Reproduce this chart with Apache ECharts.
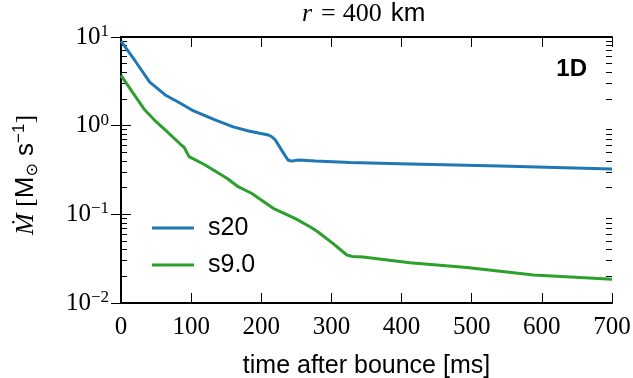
<!DOCTYPE html>
<html>
<head>
<meta charset="utf-8">
<script src="https://cdn.jsdelivr.net/npm/echarts@6/dist/echarts.min.js"></script>
<style>
  html, body { margin: 0; padding: 0; background: #ffffff; }
  #chart { width: 633px; height: 378px; }
</style>
</head>
<body>
<div id="chart"></div>
<script>
// Mass accretion rate at r = 400 km, 1D runs
const seriesNames = ['s20', 's9.0'];

const timeS20 = [0, 20, 41, 63, 84, 101, 134, 160, 182, 210, 215, 220, 229, 238, 243, 253, 277, 327, 412, 540, 700];
const mdotS20 = [9.0, 5.4, 3.1, 2.22, 1.8, 1.5, 1.16, 0.97, 0.87, 0.785, 0.75, 0.69, 0.53, 0.41, 0.398, 0.41, 0.40, 0.383, 0.37, 0.351, 0.325];

const timeS90 = [0, 17, 34, 48, 63, 86, 90, 97, 120, 151, 167, 186, 217, 248, 270, 280, 302, 322, 330, 345, 412, 493, 588, 700];
const mdotS90 = [3.7, 2.34, 1.5, 1.15, 0.895, 0.605, 0.57, 0.447, 0.36, 0.255, 0.205, 0.173, 0.117, 0.09, 0.072, 0.064, 0.047, 0.0348, 0.0335, 0.033, 0.0285, 0.0251, 0.0207, 0.0185];

const xMin = 0, xMax = 700, xStep = 100;
const yMin = 0.01, yMax = 10;

const seriesColors = ['#1f77b4', '#2ca02c'];

const SERIF = '"Liberation Serif", "DejaVu Serif", serif';
const SANS = '"Liberation Sans", Arial, sans-serif';

const GRID = { left: 121, right: 21, top: 37, bottom: 75 };
const plotWidth = 633 - GRID.left - GRID.right;

function pairs(xs, ys) {
  return xs.map((x, i) => [x, ys[i]]);
}

function powerLabel(v) {
  const e = Math.round(Math.log10(v));
  const exp = e < 0 ? '\u2212' + Math.abs(e) : String(e);
  return '{b|10}{e|' + exp + '}';
}

const frame = { show: true, lineStyle: { color: '#000', width: 2 } };
const majorTick = { show: true, inside: true, length: 10, lineStyle: { color: '#000', width: 1 } };
const minorTick = { show: true, splitNumber: 9, length: 6, lineStyle: { color: '#000', width: 1 } };

// helper y axes that only carry the minor ticks; each sits on the opposite
// frame edge so that its outward ticks point into the plotting area
function minorTickAxis(position) {
  return {
    type: 'log',
    logBase: 10,
    position: position,
    offset: -plotWidth,
    min: yMin, max: yMax,
    splitNumber: 3,
    axisLine: { show: false },
    axisTick: { show: false },
    minorTick: minorTick,
    axisLabel: { show: false },
    splitLine: { show: false },
    minorSplitLine: { show: false }
  };
}

const chart = echarts.init(document.getElementById('chart'), null, { renderer: 'canvas' });

chart.setOption({
  animation: false,
  backgroundColor: '#ffffff',
  title: [
    {
      text: '{i|r}{n|=}{n|400}{s|km}',
      left: 302,
      top: 1,
      padding: 0,
      textStyle: {
        fontWeight: 'normal',
        rich: {
          i: { fontFamily: SERIF, fontStyle: 'italic', fontWeight: 'normal', fontSize: 26, color: '#000', padding: [0, 9, 0, 0] },
          n: { fontFamily: SERIF, fontWeight: 'normal', fontSize: 26, color: '#000', padding: [0, 7, 0, 0] },
          s: { fontFamily: SANS, fontWeight: 'normal', fontSize: 26, color: '#000', padding: [0, 0, 0, 2] }
        }
      }
    },
    {
      text: '1D',
      right: 46,
      top: 57,
      padding: 0,
      textStyle: { fontFamily: SANS, fontWeight: 'bold', fontSize: 24, color: '#000' }
    }
  ],
  grid: {
    left: GRID.left, right: GRID.right, top: GRID.top, bottom: GRID.bottom,
    containLabel: false,
    outerBoundsMode: 'none'
  },
  legend: {
    orient: 'vertical',
    left: 147,
    top: 209,
    itemWidth: 42,
    itemHeight: 3,
    itemGap: 9,
    icon: 'rect',
    data: seriesNames,
    textStyle: { fontFamily: SANS, fontSize: 25, color: '#000', lineHeight: 28, padding: [0, 0, 0, 9] }
  },
  xAxis: [
    {
      type: 'value',
      position: 'bottom',
      min: xMin, max: xMax, interval: xStep,
      axisLine: frame,
      axisTick: majorTick,
      splitLine: { show: false },
      axisLabel: { fontFamily: SERIF, fontSize: 25, color: '#000', margin: 12 },
      name: 'time after bounce [ms]',
      nameLocation: 'middle',
      nameGap: 51,
      nameTextStyle: { fontFamily: SANS, fontSize: 25, color: '#000' }
    },
    {
      type: 'value',
      position: 'top',
      min: xMin, max: xMax, interval: xStep,
      axisLine: frame,
      axisTick: majorTick,
      splitLine: { show: false },
      axisLabel: { show: false }
    }
  ],
  yAxis: [
    {
      type: 'log',
      logBase: 10,
      position: 'left',
      min: yMin, max: yMax,
      splitNumber: 3,
      axisLine: frame,
      axisTick: majorTick,
      minorTick: { show: false },
      splitLine: { show: false },
      minorSplitLine: { show: false },
      axisLabel: {
        margin: 12,
        formatter: powerLabel,
        rich: {
          b: { fontFamily: SERIF, fontSize: 25, color: '#000', lineHeight: 28 },
          e: { fontFamily: SERIF, fontSize: 17, color: '#000', lineHeight: 14, verticalAlign: 'top' }
        }
      },
      name: '{it|\u1E40}{n| [}{s|M}{sub|\u2299}{s| s}{sup|\u22121}{end|]}',
      nameLocation: 'middle',
      nameRotate: 90,
      nameGap: 80,
      nameTextStyle: {
        rich: {
          it: { fontFamily: SERIF, fontStyle: 'italic', fontSize: 26, color: '#000', lineHeight: 30 },
          n: { fontFamily: SERIF, fontSize: 26, color: '#000', lineHeight: 30 },
          end: { fontFamily: SERIF, fontSize: 26, color: '#000', lineHeight: 30, padding: [0, 10, 0, 0] },
          s: { fontFamily: SANS, fontSize: 26, color: '#000', lineHeight: 30 },
          sub: { fontFamily: '"DejaVu Sans", sans-serif', fontSize: 16, color: '#000', lineHeight: 16, verticalAlign: 'bottom' },
          sup: { fontFamily: SANS, fontSize: 17, color: '#000', lineHeight: 14, verticalAlign: 'top' }
        }
      }
    },
    {
      type: 'log',
      logBase: 10,
      position: 'right',
      min: yMin, max: yMax,
      splitNumber: 3,
      axisLine: frame,
      axisTick: majorTick,
      minorTick: { show: false },
      splitLine: { show: false },
      minorSplitLine: { show: false },
      axisLabel: { show: false }
    },
    minorTickAxis('right'),
    minorTickAxis('left')
  ],
  series: [
    {
      name: seriesNames[0],
      type: 'line',
      xAxisIndex: 0, yAxisIndex: 0,
      data: pairs(timeS20, mdotS20),
      showSymbol: false,
      symbol: 'none',
      color: seriesColors[0],
      lineStyle: { width: 3, color: seriesColors[0] },
      z: 3
    },
    {
      name: seriesNames[1],
      type: 'line',
      xAxisIndex: 0, yAxisIndex: 0,
      data: pairs(timeS90, mdotS90),
      showSymbol: false,
      symbol: 'none',
      color: seriesColors[1],
      lineStyle: { width: 3, color: seriesColors[1] },
      z: 3
    }
  ]
});
</script>
</body>
</html>
